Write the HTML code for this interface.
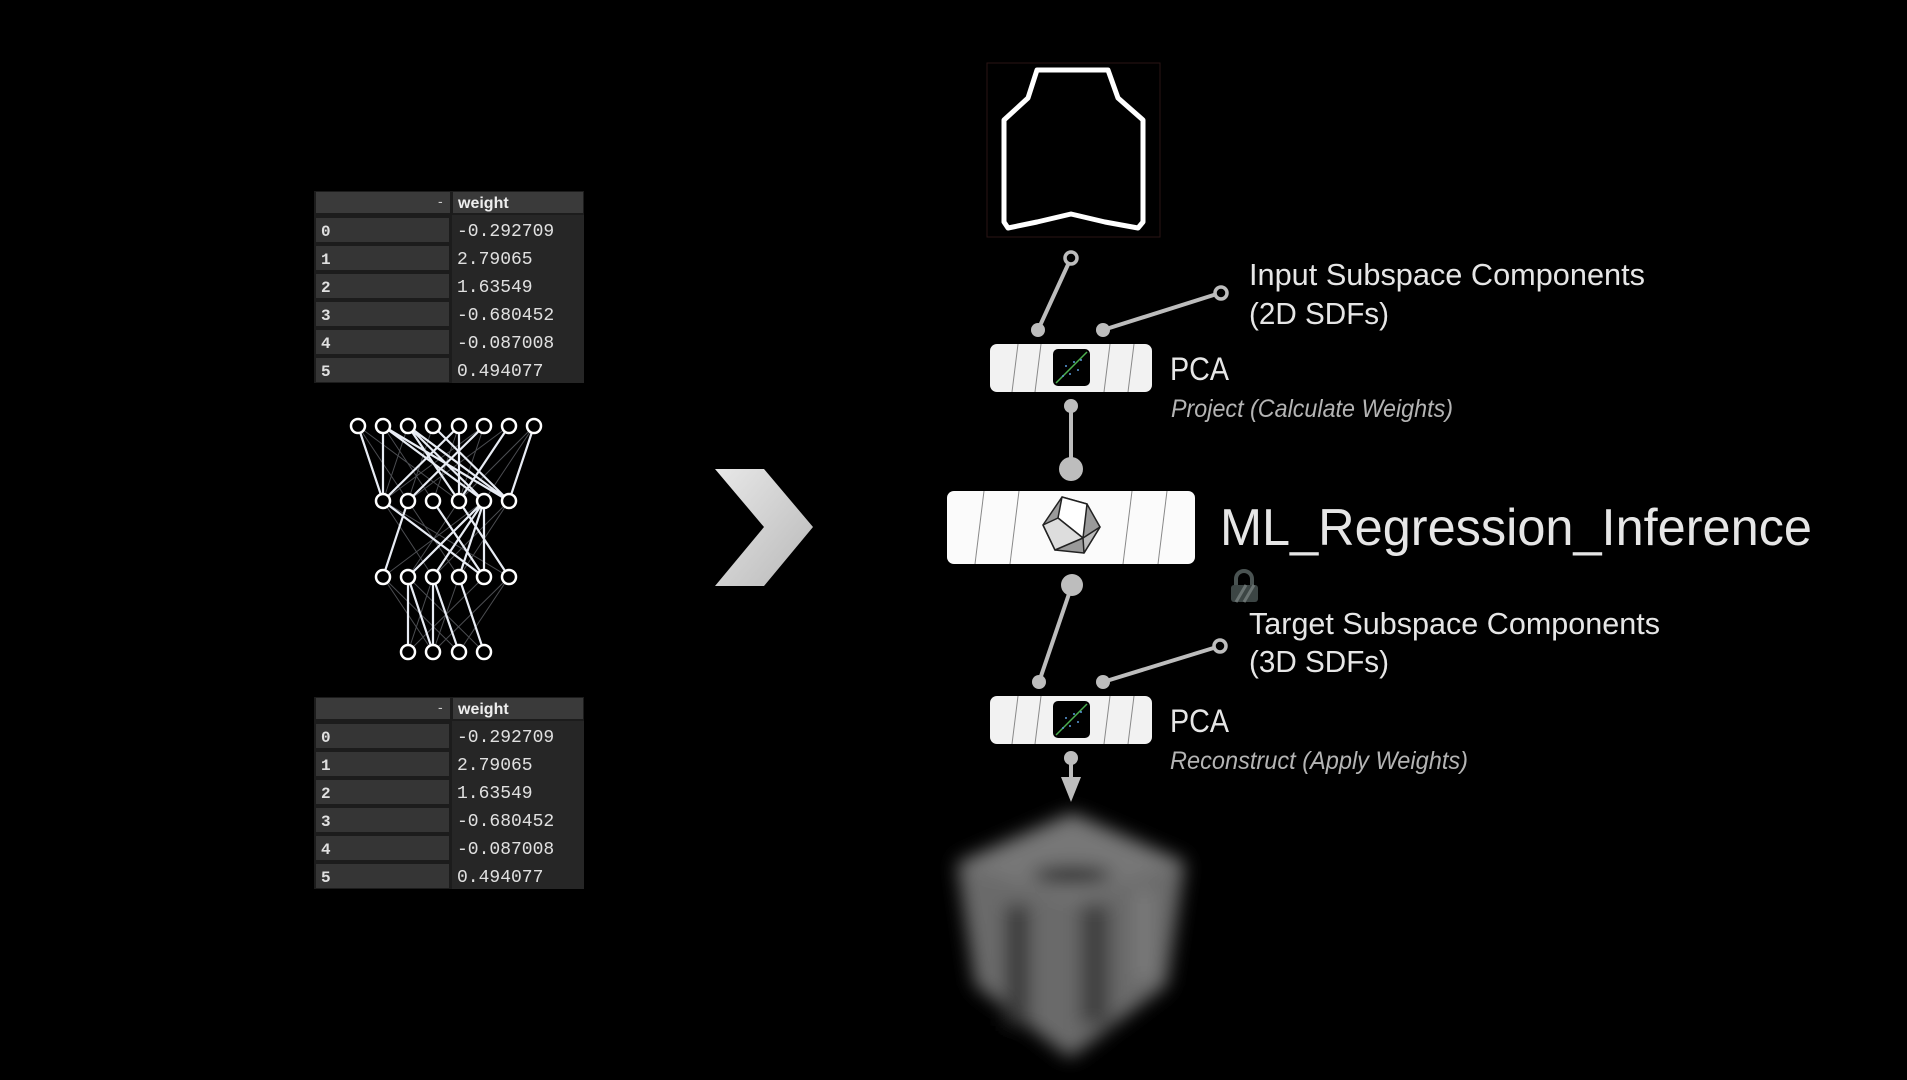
<!DOCTYPE html>
<html><head><meta charset="utf-8"><style>
html,body{margin:0;padding:0;background:#000;width:1907px;height:1080px;overflow:hidden}
svg{display:block}
text{font-family:"Liberation Sans",sans-serif}
.mono{font-family:"Liberation Mono",monospace;font-size:18px;fill:#e0e0e0}
.idx{font-family:"Liberation Mono",monospace;font-size:16px;fill:#e0e0e0;font-weight:bold}
</style></head><body>
<svg width="1907" height="1080" viewBox="0 0 1907 1080" xmlns="http://www.w3.org/2000/svg">
<defs>
<filter id="blur" x="-20%" y="-20%" width="140%" height="140%"><feGaussianBlur stdDeviation="9"/></filter>
<linearGradient id="chev" x1="0" y1="0" x2="1" y2="1"><stop offset="0" stop-color="#e8e8e8"/><stop offset="1" stop-color="#b8b8b8"/></linearGradient>
<g id="tbl">
<rect x="314" y="0" width="270" height="192" fill="#1c1c1c"/>
<rect x="316" y="1" width="134" height="21" fill="#3a3a3a"/>
<rect x="453" y="1" width="130" height="21" fill="#3a3a3a"/>
<text x="438" y="15" fill="#ccc" font-size="14">-</text>
<text x="458" y="17" fill="#eee" font-size="16" font-weight="bold">weight</text>
<rect x="316" y="27" width="133" height="24" fill="#353535"/>
<rect x="316" y="55" width="133" height="24" fill="#353535"/>
<rect x="316" y="83" width="133" height="24" fill="#353535"/>
<rect x="316" y="111" width="133" height="24" fill="#353535"/>
<rect x="316" y="139" width="133" height="24" fill="#353535"/>
<rect x="316" y="167" width="133" height="24" fill="#353535"/>
<rect x="452" y="24" width="132" height="168" fill="#262626"/>
<text class="idx" x="321" y="45">0</text><text class="mono" x="457" y="45">-0.292709</text>
<text class="idx" x="321" y="73">1</text><text class="mono" x="457" y="73">2.79065</text>
<text class="idx" x="321" y="101">2</text><text class="mono" x="457" y="101">1.63549</text>
<text class="idx" x="321" y="129">3</text><text class="mono" x="457" y="129">-0.680452</text>
<text class="idx" x="321" y="157">4</text><text class="mono" x="457" y="157">-0.087008</text>
<text class="idx" x="321" y="185">5</text><text class="mono" x="457" y="185">0.494077</text>
</g>
</defs>
<use href="#tbl" transform="translate(0,191)"/>
<use href="#tbl" transform="translate(0,697)"/>

<g stroke="#d8dce8" stroke-width="1" opacity="0.35">
<path d="M358 426L408 501M358 426L459 501M383 426L433 501M383 426L509 501M408 426L383 501M408 426L484 501M433 426L408 501M433 426L509 501M459 426L433 501M484 426L383 501M484 426L459 501M509 426L408 501M534 426L459 501M534 426L484 501M383 501L433 577M383 501L509 577M408 501L459 577M408 501L383 577M433 501L484 577M459 501L408 577M459 501L509 577M484 501L383 577M509 501L459 577M509 501L433 577M383 577L433 652M408 577L484 652M433 577L408 652M459 577L433 652M484 577L408 652M509 577L459 652M509 577L433 652M383 577L459 652"/>
</g>
<g stroke="#e8ecf4" stroke-width="2.2" fill="none">
<path d="M358 426L383 501M383 426L383 501M383 426L484 501M383 426L509 501M408 426L484 501M408 426L509 501M408 426L459 501M433 426L509 501M459 426L383 501M459 426L459 501M484 426L408 501M509 426L459 501M534 426L509 501M383 501L484 577M408 501L383 577M459 501L509 577M484 501L408 577M484 501L433 577M484 501L459 577M484 501L484 577M433 501L484 577M408 577L408 652M408 577L433 652M433 577L459 652M459 577L484 652M433 577L433 652"/>
</g>
<g fill="#000" stroke="#fff" stroke-width="2.5">
<circle cx="358" cy="426" r="7"/><circle cx="383" cy="426" r="7"/><circle cx="408" cy="426" r="7"/><circle cx="433" cy="426" r="7"/><circle cx="459" cy="426" r="7"/><circle cx="484" cy="426" r="7"/><circle cx="509" cy="426" r="7"/><circle cx="534" cy="426" r="7"/>
<circle cx="383" cy="501" r="7"/><circle cx="408" cy="501" r="7"/><circle cx="433" cy="501" r="7"/><circle cx="459" cy="501" r="7"/><circle cx="484" cy="501" r="7"/><circle cx="509" cy="501" r="7"/>
<circle cx="383" cy="577" r="7"/><circle cx="408" cy="577" r="7"/><circle cx="433" cy="577" r="7"/><circle cx="459" cy="577" r="7"/><circle cx="484" cy="577" r="7"/><circle cx="509" cy="577" r="7"/>
<circle cx="408" cy="652" r="7"/><circle cx="433" cy="652" r="7"/><circle cx="459" cy="652" r="7"/><circle cx="484" cy="652" r="7"/>
</g>

<polygon points="715,469 764,469 813,527 764,586 715,586 764,527" fill="url(#chev)"/>

<rect x="987" y="63" width="173" height="174" fill="#000" stroke="#2a1414" stroke-width="1"/>
<path d="M1037 70L1108 70L1118 98L1143 120L1143 222L1138 228L1105 222L1071 214L1037 222L1008 228L1004 222L1004 120L1028 98Z" fill="none" stroke="#fff" stroke-width="5" stroke-linejoin="round"/>

<g stroke="#bdbdbd" stroke-width="4" fill="none">
<line x1="1071" y1="258" x2="1038" y2="330"/>
<line x1="1103" y1="330" x2="1220" y2="293"/>
<line x1="1071" y1="406" x2="1071" y2="469"/>
<line x1="1072" y1="585" x2="1039" y2="682"/>
<line x1="1103" y1="682" x2="1220" y2="646"/>
<line x1="1071" y1="758" x2="1071" y2="782"/>
</g>
<g fill="#000" stroke="#bdbdbd" stroke-width="3.5">
<circle cx="1071" cy="258" r="6"/><circle cx="1221" cy="293" r="6"/><circle cx="1220" cy="646" r="6"/>
</g>
<g fill="#bdbdbd">
<circle cx="1038" cy="330" r="7"/><circle cx="1103" cy="330" r="7"/>
<circle cx="1071" cy="406" r="7"/><circle cx="1071" cy="469" r="12"/>
<circle cx="1072" cy="585" r="11"/>
<circle cx="1039" cy="682" r="7"/><circle cx="1103" cy="682" r="7"/>
<circle cx="1071" cy="758" r="7"/>
<polygon points="1061,777 1081,777 1071,802"/>
</g>

<g id="pca1">
<rect x="990" y="344" width="162" height="48" rx="7" fill="#f2f2f2"/>
<g stroke="#888" stroke-width="1"><line x1="1012" y1="392" x2="1018" y2="344"/><line x1="1035" y1="392" x2="1041" y2="344"/><line x1="1104" y1="392" x2="1110" y2="344"/><line x1="1128" y1="392" x2="1134" y2="344"/></g>
<rect x="1053" y="349" width="37" height="37" rx="5" fill="#000"/>
<line x1="1056" y1="383" x2="1087" y2="352" stroke="#4caf50" stroke-width="1.5"/>
<g fill="#5a9ad8"><circle cx="1066" cy="366" r="1"/><circle cx="1074" cy="362" r="1"/><circle cx="1070" cy="374" r="1"/><circle cx="1078" cy="370" r="1"/><circle cx="1063" cy="376" r="1"/><circle cx="1081" cy="360" r="1"/></g>
</g>
<use href="#pca1" transform="translate(0,352)"/>

<rect x="947" y="491" width="248" height="73" rx="7" fill="#fbfbfb"/>
<g stroke="#888" stroke-width="1"><line x1="975" y1="564" x2="984" y2="491"/><line x1="1010" y1="564" x2="1019" y2="491"/><line x1="1123" y1="564" x2="1132" y2="491"/><line x1="1158" y1="564" x2="1167" y2="491"/></g>
<g stroke="#222" stroke-width="1.5" stroke-linejoin="round">
<polygon points="1062,497 1087,504 1100,527 1084,553 1055,550 1043,525" fill="#9a9a9a"/>
<polygon points="1062,497 1087,504 1083,538 1058,518" fill="#fff"/>
<polygon points="1058,518 1083,538 1055,550 1043,525" fill="#ddd"/>
<polygon points="1083,538 1100,527 1084,553" fill="#bbb"/>
</g>

<g>
<path d="M1236 585v-6a8 8 0 0 1 16 0v6" fill="none" stroke="#4a5352" stroke-width="4"/>
<rect x="1231" y="585" width="27" height="17" rx="3" fill="#3c4544"/>
<path d="M1236 602l10-17M1244 602l10-17" stroke="#6a7372" stroke-width="3"/>
</g>

<g filter="url(#blur)">
<polygon points="1072,813 1185,862 1167,985 1070,1058 975,985 957,863" fill="#6a6a6a"/>
<polygon points="1072,813 1185,862 1072,900 957,863" fill="#777"/>
<ellipse cx="1072" cy="875" rx="40" ry="9" fill="#2a2a2a"/>
<rect x="1005" y="905" width="25" height="120" fill="#3a3a3a"/>
<rect x="1080" y="905" width="30" height="120" fill="#404040"/>
<rect x="1135" y="890" width="18" height="90" fill="#7a7a7a"/>
</g>

<g fill="#e6e6e6">
<text x="1249" y="285" font-size="31" textLength="396" lengthAdjust="spacingAndGlyphs">Input Subspace Components</text>
<text x="1249" y="324" font-size="31" textLength="140" lengthAdjust="spacingAndGlyphs">(2D SDFs)</text>
<text x="1170" y="380" font-size="32" textLength="59" lengthAdjust="spacingAndGlyphs">PCA</text>
<text x="1220" y="545" font-size="52" textLength="592" lengthAdjust="spacingAndGlyphs">ML_Regression_Inference</text>
<text x="1249" y="634" font-size="31" textLength="411" lengthAdjust="spacingAndGlyphs">Target Subspace Components</text>
<text x="1249" y="672" font-size="31" textLength="140" lengthAdjust="spacingAndGlyphs">(3D SDFs)</text>
<text x="1170" y="732" font-size="32" textLength="59" lengthAdjust="spacingAndGlyphs">PCA</text>
</g>
<g fill="#b4b4b4" font-style="italic">
<text x="1171" y="417" font-size="25" textLength="282" lengthAdjust="spacingAndGlyphs">Project (Calculate Weights)</text>
<text x="1170" y="769" font-size="25" textLength="298" lengthAdjust="spacingAndGlyphs">Reconstruct (Apply Weights)</text>
</g>
</svg>
</body></html>
